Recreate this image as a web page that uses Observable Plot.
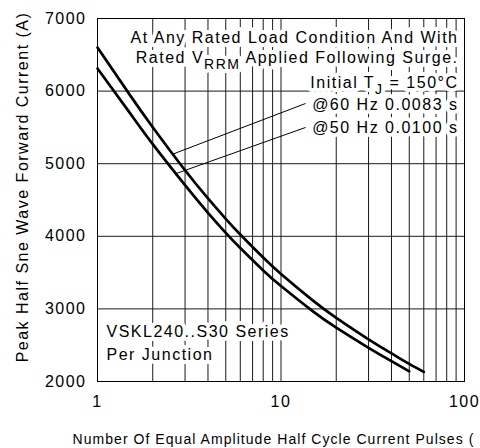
<!DOCTYPE html>
<html>
<head>
<meta charset="utf-8">
<script src="https://cdn.jsdelivr.net/npm/d3@7"></script>
<script src="https://cdn.jsdelivr.net/npm/@observablehq/plot@0.6"></script>
<style>
  html, body { margin: 0; padding: 0; background: #fff; overflow: hidden; }
  #chart svg text { letter-spacing: 1.5px; }
</style>
</head>
<body>
<div id="chart"></div>
<script>
// ---- data ----
const pulses60 = [1, 1.5, 2, 3, 4, 5, 6, 8, 10, 15, 20, 30, 40, 50, 60];
const current60 = [6600, 5948, 5503, 4910, 4523, 4241, 4025, 3707, 3481, 3110, 2877, 2581, 2387, 2242, 2132];
const pulses50 = [1, 1.5, 2, 3, 4, 5, 6, 8, 10, 15, 20, 30, 40, 50];
const current50 = [6311, 5700, 5269, 4704, 4324, 4048, 3839, 3530, 3315, 2962, 2742, 2464, 2280, 2139];

const xTicks = [1, 10, 100];
const yTicks = [2000, 3000, 4000, 5000, 6000, 7000];
const xGrid = [2, 3, 4, 5, 6, 7, 8, 9, 10, 20, 30, 40, 50, 60, 70, 80, 90];
const yGrid = [3000, 4000, 5000, 6000];

// leader lines: from label (N, A) to a point on the curve (N, A)
const leaderFromN = [13.6, 13.6];
const leaderFromA = [5829, 5499];
const leaderToN = [2.56, 2.66];
const leaderToA = [5130, 4861];

const noteLines = [
  "At Any Rated Load Condition And With",
  "Rated V_RRM Applied Following Surge.",
  "Initial T_J = 150°C",
  "@60 Hz 0.0083 s",
  "@50 Hz 0.0100 s"
];
const seriesLines = ["VSKL240..S30 Series", "Per Junction"];
const yLabel = "Peak Half Sne Wave Forward Current (A)";
const xLabel = "Number Of Equal Amplitude Half Cycle Current Pulses (";

// ---- tables ----
const curves = [
  ...pulses60.map((n, i) => ({n, a: current60[i], s: "60 Hz"})),
  ...pulses50.map((n, i) => ({n, a: current50[i], s: "50 Hz"}))
];
const leaders = leaderFromN.map((n, i) => ({x1: n, y1: leaderFromA[i], x2: leaderToN[i], y2: leaderToA[i]}));

const noteDy = [24.5, 44.5, 69.3, 91, 114.7];
const seriesDy = [-45, -22];

const halo = {stroke: "white", strokeWidth: 8, strokeLinejoin: "round", fill: "black"};

const marks = [
  Plot.ruleX(xGrid, {stroke: "#1a1a1a", strokeWidth: 1}),
  Plot.ruleY(yGrid, {stroke: "#1a1a1a", strokeWidth: 1}),
  ...noteLines.map((t, i) => Plot.text([t], {
    text: d => d, frameAnchor: "top-right", textAnchor: "end", lineAnchor: "bottom",
    dx: -6, dy: noteDy[i], fontSize: 16, ...halo
  })),
  ...seriesLines.map((t, i) => Plot.text([t], {
    text: d => d, frameAnchor: "bottom-left", textAnchor: "start", lineAnchor: "bottom",
    dx: 9, dy: seriesDy[i], fontSize: 16, ...halo
  })),
  Plot.line(curves, {x: "n", y: "a", z: "s", stroke: "black", strokeWidth: 2.7, curve: "natural"}),
  Plot.link(leaders, {x1: "x1", y1: "y1", x2: "x2", y2: "y2", stroke: "black", strokeWidth: 1}),
  Plot.frame({stroke: "black", strokeWidth: 1}),
  Plot.text([yLabel], {
    text: d => d, frameAnchor: "left", rotate: -90, textAnchor: "middle", lineAnchor: "middle",
    dx: -75, dy: -13, fontSize: 16, fill: "black"
  }),
  Plot.text([xLabel], {
    text: d => d, frameAnchor: "bottom-left", textAnchor: "start", lineAnchor: "bottom",
    dx: -25, dy: 62, fontSize: 14, fill: "black"
  })
];

const chart = Plot.plot({
  width: 480,
  height: 448,
  marginLeft: 97,
  marginRight: 16,
  marginTop: 18,
  marginBottom: 67,
  style: {fontFamily: "'Liberation Sans', Arial, sans-serif", fontSize: "16px", background: "white", color: "black", overflow: "visible"},
  x: {type: "log", domain: [1, 100], ticks: xTicks, tickFormat: d => String(d), tickSize: 0, tickPadding: 14, label: null},
  y: {domain: [2000, 7000], ticks: yTicks, tickFormat: d => String(d), tickSize: 0, tickPadding: 11, label: null},
  marks
});
document.getElementById("chart").append(chart);

// post-process: subscripts (marked with "_") and x-label spacing
const NS = "http://www.w3.org/2000/svg";
chart.querySelectorAll("text").forEach(el => {
  const s = el.textContent;
  if (s === xLabel) { el.style.letterSpacing = "1.05px"; return; }
  const m = s.match(/^(.*?)_([A-Z]+)(.*)$/);
  if (!m) return;
  el.textContent = "";
  el.append(document.createTextNode(m[1]));
  const shift = 6;
  const t1 = document.createElementNS(NS, "tspan");
  t1.setAttribute("dy", shift);
  t1.setAttribute("font-size", 14);
  t1.textContent = m[2];
  const t2 = document.createElementNS(NS, "tspan");
  t2.setAttribute("dy", -shift);
  t2.textContent = m[3];
  el.append(t1, t2);
});
</script>
</body>
</html>
